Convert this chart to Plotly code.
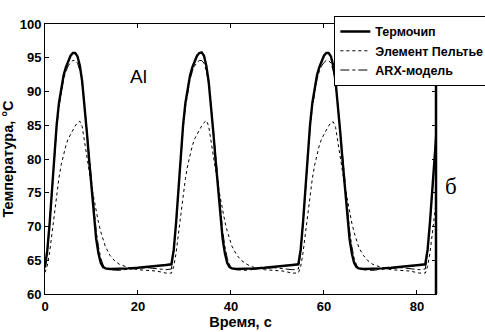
import plotly.graph_objects as go

# Time grid, s
time_s = [
    0, 0.5, 1, 1.5, 2, 2.5, 3, 3.5, 4, 4.5, 5, 5.5, 6, 6.5, 7, 7.5, 8, 8.5, 9, 9.5, 10, 10.5, 11, 11.5, 12, 12.5, 13,
    14, 15, 16, 17, 18, 20, 22, 24, 26,
    27.2, 27.7, 28.2, 28.7, 29.2, 29.7, 30.2, 30.7, 31.2, 31.7, 32.2, 32.7, 33.2, 33.7, 34.2, 34.7, 35.2, 35.7, 36.2,
    36.7, 37.2, 37.7, 38.2, 38.7, 39.2, 39.7, 40.2,
    41.2, 42.2, 43.2, 44.2, 45.2, 47.2, 49.2, 51.2, 53.2,
    54.5, 55, 55.5, 56, 56.5, 57, 57.5, 58, 58.5, 59, 59.5, 60, 60.5, 61, 61.5, 62, 62.5, 63, 63.5, 64, 64.5, 65,
    65.5, 66, 66.5, 67, 67.5,
    68.5, 69.5, 70.5, 71.5, 72.5, 74.5, 76.5, 78.5, 80.5,
    81.8, 82.3, 82.8, 83.3, 83.8, 84.3,
]

# Термочип, °C
thermochip = [
    64.0, 66.5, 70.5, 75.5, 80.5, 85.0, 88.3, 90.7, 92.4, 93.6, 94.6, 95.3, 95.7, 95.7, 95.2, 93.8, 91.5, 88.0, 84.0,
    79.8, 75.5, 71.5, 68.2, 66.0, 64.6, 64.0, 63.8,
    63.7, 63.7, 63.7, 63.8, 63.8, 63.9, 64.0, 64.1, 64.3,
    64.4, 66.6, 70.6, 75.6, 80.6, 85.0, 88.3, 90.7, 92.4, 93.6, 94.6, 95.3, 95.7, 95.8, 95.3, 93.8, 91.5, 88.0, 84.0,
    79.8, 75.5, 71.5, 68.2, 66.0, 64.6, 64.0, 63.8,
    63.7, 63.7, 63.7, 63.8, 63.8, 63.9, 64.0, 64.1, 64.3,
    64.4, 66.6, 70.6, 75.6, 80.6, 85.0, 88.3, 90.7, 92.4, 93.6, 94.6, 95.3, 95.7, 95.7, 95.2, 93.8, 91.5, 88.0, 84.0,
    79.8, 75.5, 71.5, 68.2, 66.0, 64.6, 64.0, 63.8,
    63.7, 63.7, 63.7, 63.8, 63.8, 63.9, 64.0, 64.1, 64.3,
    64.4, 66.6, 70.6, 75.6, 80.6, 85.0,
]

# Элемент Пельтье, °C
peltier = [
    63.2, 64.2, 66.2, 69.0, 72.0, 74.8, 77.2, 79.2, 80.8, 82.0, 83.0, 83.7, 84.3, 84.9, 85.4, 85.6, 84.8, 82.8, 80.5,
    78.2, 76.0, 74.0, 72.2, 70.6, 69.2, 68.0, 67.0,
    65.7, 64.9, 64.4, 64.1, 63.9, 63.6, 63.5, 63.4, 63.1,
    63.1, 64.1, 66.1, 68.9, 71.9, 74.7, 77.1, 79.1, 80.7, 82.0, 83.0, 83.7, 84.3, 84.9, 85.4, 85.7, 84.9, 82.9, 80.6,
    78.3, 76.1, 74.1, 72.3, 70.7, 69.3, 68.1, 67.1,
    65.8, 65.0, 64.5, 64.1, 63.9, 63.6, 63.5, 63.4, 63.1,
    63.1, 64.1, 66.1, 68.9, 71.9, 74.7, 77.1, 79.1, 80.7, 82.0, 83.0, 83.7, 84.3, 84.9, 85.4, 85.5, 84.7, 82.7, 80.4,
    78.1, 75.9, 73.9, 72.1, 70.5, 69.1, 67.9, 66.9,
    65.7, 64.9, 64.4, 64.1, 63.9, 63.6, 63.5, 63.4, 63.1,
    63.1, 64.1, 66.1, 68.9, 71.9, 74.7,
]

# ARX-модель, °C
arx_model = [
    63.8, 66.3, 70.3, 75.2, 80.1, 84.4, 87.7, 90.1, 91.8, 93.0, 93.8, 94.3, 94.6, 94.6, 94.2, 93.1, 91.1, 88.0, 84.3,
    80.3, 76.3, 72.6, 69.4, 67.0, 65.3, 64.3, 63.8,
    63.6, 63.5, 63.5, 63.6, 63.7, 63.8, 63.9, 63.8, 63.6,
    63.7, 66.3, 70.3, 75.2, 80.1, 84.4, 87.7, 90.1, 91.8, 93.0, 93.8, 94.3, 94.6, 94.6, 94.2, 93.1, 91.1, 88.0, 84.3,
    80.3, 76.3, 72.6, 69.4, 67.0, 65.3, 64.3, 63.8,
    63.6, 63.5, 63.5, 63.6, 63.7, 63.8, 63.9, 63.8, 63.6,
    63.7, 66.3, 70.3, 75.2, 80.1, 84.4, 87.7, 90.1, 91.8, 93.0, 93.8, 94.3, 94.6, 94.6, 94.2, 93.1, 91.1, 88.0, 84.3,
    80.3, 76.3, 72.6, 69.4, 67.0, 65.3, 64.3, 63.8,
    63.6, 63.5, 63.5, 63.6, 63.7, 63.8, 63.9, 63.8, 63.6,
    63.7, 66.3, 70.3, 75.2, 80.1, 84.4,
]

x_ticks = [0, 20, 40, 60, 80]
y_ticks = [60, 65, 70, 75, 80, 85, 90, 95, 100]

series_names = ["Термочип", "Элемент Пельтье", "ARX-модель"]

FONT = "Liberation Sans, Arial, sans-serif"

fig = go.Figure()
fig.add_trace(go.Scatter(x=time_s, y=thermochip, mode="lines", name=series_names[0],
                         line=dict(color="black", width=2.4)))
fig.add_trace(go.Scatter(x=time_s, y=peltier, mode="lines", name=series_names[1],
                         line=dict(color="black", width=1, dash="dot")))
fig.add_trace(go.Scatter(x=time_s, y=arx_model, mode="lines", name=series_names[2],
                         line=dict(color="black", width=1, dash="dashdot")))

axis_common = dict(
    showgrid=False, zeroline=False, showline=True, linecolor="black",
    mirror="ticks", ticks="inside", ticklen=4, tickcolor="black", tickwidth=1,
    tickfont=dict(family=FONT, size=13, color="black", weight="bold"),
)

fig.update_layout(
    width=485, height=332,
    margin=dict(l=45, r=49, t=24, b=38, autoexpand=False),
    paper_bgcolor="white", plot_bgcolor="white",
    font=dict(family=FONT, color="black"),
    xaxis=dict(range=[0, 84.1], tickvals=x_ticks, linewidth=1.3,
               title=dict(text="Время, с", font=dict(family=FONT, size=14.5, weight="bold"), standoff=4),
               **axis_common),
    yaxis=dict(range=[60, 100], tickvals=y_ticks, linewidth=1,
               title=dict(text="Температура, °С", font=dict(family=FONT, size=14.5, weight="bold"), standoff=2),
               **axis_common),
    legend=dict(x=0.74, y=1.03, xanchor="left", yanchor="top",
                bgcolor="white", bordercolor="black", borderwidth=1,
                font=dict(family=FONT, size=12.5, weight="bold", color="black"),
                itemwidth=30, tracegroupgap=0),
    showlegend=True,
)

# thicker right frame edge
fig.add_shape(type="line", xref="paper", yref="paper", x0=1, x1=1, y0=0, y1=1,
              line=dict(color="black", width=2.5))

fig.add_annotation(text="Al", xref="paper", yref="paper", x=0.212, y=0.852,
                   showarrow=False, font=dict(family=FONT, size=19, color="black"))
fig.add_annotation(text="б", xref="paper", yref="paper", x=1.059, y=0.40,
                   showarrow=False, font=dict(family="Liberation Serif, serif", size=23, color="black"))

fig.write_html("out.html", config={"displayModeBar": False},
               post_script="document.body.style.margin='0';document.body.style.overflow='hidden';")
